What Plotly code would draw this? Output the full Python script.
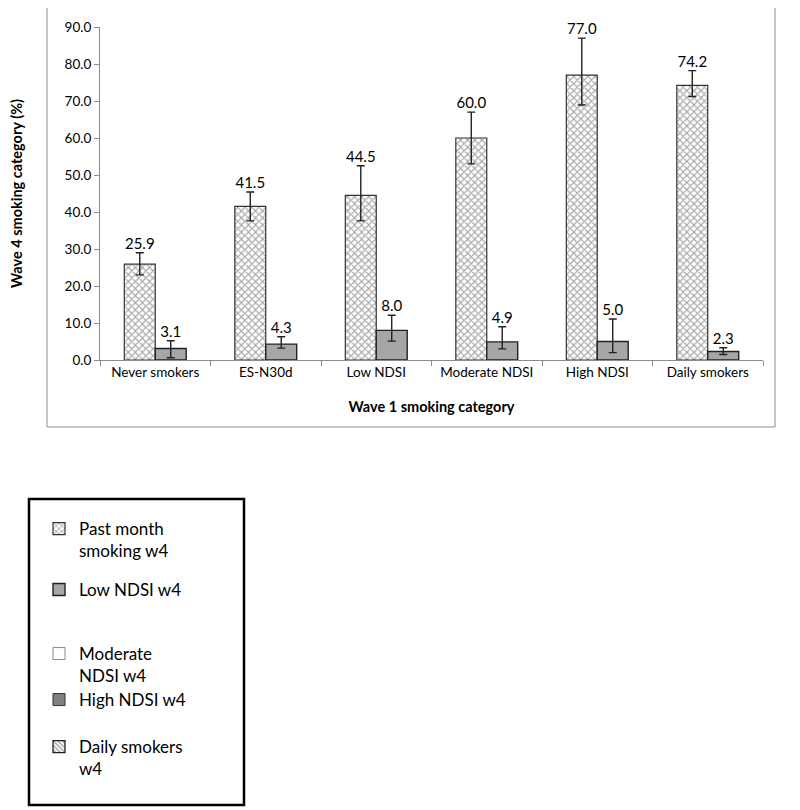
import plotly.graph_objects as go

categories = ["Never smokers", "ES-N30d", "Low NDSI", "Moderate NDSI", "High NDSI", "Daily smokers"]

past_month = [25.9, 41.5, 44.5, 60.0, 77.0, 74.2]
past_month_err_plus = [3.1, 3.9, 8.0, 7.0, 10.0, 4.0]
past_month_err_minus = [2.9, 3.9, 6.9, 7.0, 8.1, 3.0]

low_ndsi = [3.1, 4.3, 8.0, 4.9, 5.0, 2.3]
low_ndsi_err_plus = [2.1, 2.0, 4.1, 4.1, 6.1, 1.0]
low_ndsi_err_minus = [2.5, 1.1, 2.9, 1.9, 3.0, 0.8]

# series that appear only in the legend (no values plotted)
moderate_ndsi = [None, None, None, None, None, None]
high_ndsi = [None, None, None, None, None, None]
daily_smokers = [None, None, None, None, None, None]

y_ticks = [0, 10, 20, 30, 40, 50, 60, 70, 80, 90]

FONT = "Lato"
OFF = 8  # page body margin
W, H = 800 - OFF, 810 - OFF
L, T = 100 - OFF, 27 - OFF
pw, ph = 663, 333
R, B = W - L - pw, H - T - ph


def px_x(x):
    return (x - OFF - L) / pw


def px_y(y):
    return (T + ph - (y - OFF)) / ph


fig = go.Figure()

fig.add_trace(go.Bar(
    name="Past month<br>smoking w4", x=categories, y=past_month,
    marker=dict(color="white", line=dict(color="#333333", width=1.2),
                pattern=dict(shape="x", size=5, solidity=0.4, fgcolor="#4d4d4d", bgcolor="white")),
    error_y=dict(type="data", symmetric=False, array=past_month_err_plus,
                 arrayminus=past_month_err_minus, color="#222222", thickness=1.4, width=4),
    legend="legend", offsetgroup="a", showlegend=True,
))
fig.add_trace(go.Bar(
    name="Low NDSI w4", x=categories, y=low_ndsi,
    marker=dict(color="#a6a6a6", line=dict(color="#222222", width=1.4)),
    error_y=dict(type="data", symmetric=False, array=low_ndsi_err_plus,
                 arrayminus=low_ndsi_err_minus, color="#222222", thickness=1.4, width=4),
    legend="legend2", offsetgroup="b", showlegend=True,
))

# data labels above the error bars
fig.add_trace(go.Scatter(
    x=categories, y=[v + e for v, e in zip(past_month, past_month_err_plus)],
    mode="text", text=[f"{v:.1f}" for v in past_month], textposition="top center",
    textfont=dict(family=FONT, size=15, color="black"), showlegend=False,
    offsetgroup="a", hoverinfo="skip", cliponaxis=False,
))
fig.add_trace(go.Scatter(
    x=categories, y=[v + e for v, e in zip(low_ndsi, low_ndsi_err_plus)],
    mode="text", text=[f"{v:.1f}" for v in low_ndsi], textposition="top center",
    textfont=dict(family=FONT, size=15, color="black"), showlegend=False,
    offsetgroup="b", hoverinfo="skip", cliponaxis=False,
))

# legend-only series (no bars drawn in the chart)
fig.add_trace(go.Bar(
    name="Moderate<br>NDSI w4", x=categories, y=moderate_ndsi, xaxis="x2", yaxis="y2",
    marker=dict(color="white", line=dict(color="#888888", width=1)), legend="legend3", showlegend=True,
))
fig.add_trace(go.Bar(
    name="High NDSI w4", x=categories, y=high_ndsi, xaxis="x2", yaxis="y2",
    marker=dict(color="#808080", line=dict(color="#333333", width=1)), legend="legend4", showlegend=True,
))
fig.add_trace(go.Bar(
    name="Daily smokers<br>w4", x=categories, y=daily_smokers, xaxis="x2", yaxis="y2",
    marker=dict(color="white", line=dict(color="#222222", width=1.3),
                pattern=dict(shape="\\", size=4, solidity=0.4, fgcolor="#333333")),
    legend="legend5", showlegend=True,
))

leg_common = dict(font=dict(family=FONT, size=17, color="black"), bgcolor="rgba(0,0,0,0)",
                  xanchor="left", yanchor="middle", valign="top", itemclick=False, visible=True)
lx = px_x(39)

fig.update_layout(
    width=W, height=H, showlegend=True,
    margin=dict(l=L, r=R, t=T, b=B, autoexpand=False),
    paper_bgcolor="white", plot_bgcolor="white",
    barmode="group", bargap=0.44, bargroupgap=0, scattermode="group", scattergap=0.44,
    font=dict(family=FONT, size=13, color="black"),
    xaxis=dict(
        type="category", showgrid=False, showline=True, linecolor="#8c8c8c", linewidth=1,
        ticks="outside", ticklen=5, tickcolor="#8c8c8c", tickson="boundaries", automargin=False,
        tickfont=dict(family=FONT, size=13.5, color="black"),
        title=dict(text="<b>Wave 1 smoking category</b>", font=dict(family=FONT, size=14.5, color="black"),
                   standoff=22),
    ),
    yaxis=dict(
        range=[0, 90], tickvals=y_ticks, tickformat=".1f", showgrid=False, zeroline=False,
        showline=True, linecolor="#8c8c8c", linewidth=1, ticks="outside", ticklen=5, automargin=False,
        tickcolor="#8c8c8c", tickfont=dict(family=FONT, size=13.5, color="black"),
        title=dict(text="<b>Wave 4 smoking category (%)</b>", font=dict(family=FONT, size=14.5, color="black"),
                   standoff=44),
    ),
    xaxis2=dict(visible=False, overlaying="x", type="category"),
    yaxis2=dict(visible=False, overlaying="y", range=[0, 90]),
    legend=dict(x=lx, y=px_y(540), **leg_common),
    legend2=dict(x=lx, y=px_y(590), **leg_common),
    legend3=dict(x=lx, y=px_y(665), **leg_common),
    legend4=dict(x=lx, y=px_y(700), **leg_common),
    legend5=dict(x=lx, y=px_y(758), **leg_common),
    shapes=[
        dict(type="rect", xref="paper", yref="paper", x0=px_x(47), x1=px_x(775), y0=px_y(427), y1=px_y(3),
             line=dict(color="#8c8c8c", width=1), fillcolor="rgba(0,0,0,0)", layer="below"),
        dict(type="rect", xref="paper", yref="paper", x0=px_x(29), x1=px_x(244), y0=px_y(805), y1=px_y(499),
             line=dict(color="black", width=2.5), fillcolor="rgba(0,0,0,0)", layer="below"),
    ],
)

fig.write_html("out.html")
